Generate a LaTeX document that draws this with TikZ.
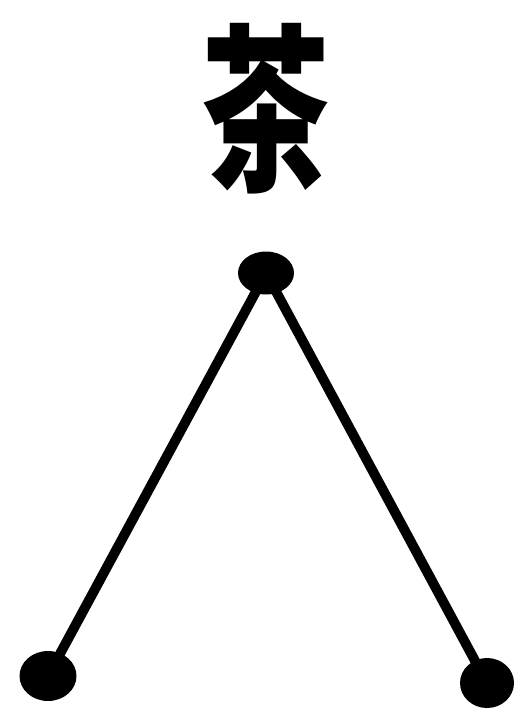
\documentclass[tikz,border=0pt]{standalone}
\usepackage{fontspec}
\newfontfamily\cjk{Noto Sans CJK SC}
\usetikzlibrary{positioning, shapes.geometric}

\begin{document}
\begin{tikzpicture}[x=0.02cm, y=-0.02cm,
    dot/.style={ellipse, fill=black, inner sep=0pt, minimum width=1.08cm, minimum height=1cm},
    edge/.style={line width=5.6pt}]
  % Frame
  \useasboundingbox (0,0) rectangle (515,718);

  % The word and its tree
  \node[font=\cjk\bfseries\fontsize{102}{102}\selectfont, xscale=0.72] (word) at (266,109) {茶};
  \node[dot, minimum width=1.12cm, minimum height=0.86cm] (root) at (266,273) {};
  \node[dot, minimum width=1.14cm] (leafL) at (48,676) {};
  \node[dot] (leafR) at (487,683) {};

  % Branches
  \foreach \leaf in {leafL, leafR} {
    \draw[edge] (root.center) -- (\leaf.center);
  }
\end{tikzpicture}
\end{document}
